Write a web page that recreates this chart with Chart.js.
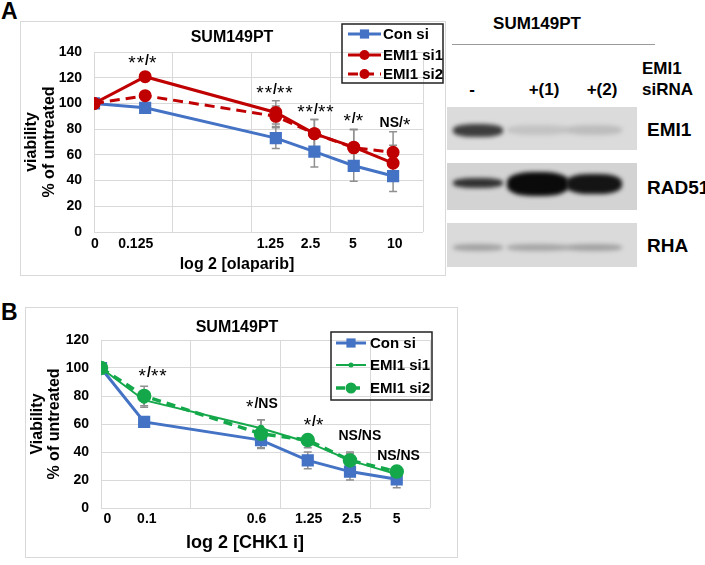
<!DOCTYPE html>
<html>
<head>
<meta charset="utf-8">
<script src="https://cdn.jsdelivr.net/npm/chart.js@4/dist/chart.umd.min.js"></script>
<style>
body{margin:0;width:705px;height:565px;background:#fff;position:relative;overflow:hidden;
  font-family:"Liberation Sans",Arial,sans-serif;font-weight:bold;color:#000}
.abs{position:absolute;line-height:1;white-space:nowrap}
.c{transform:translate(-50%,-50%)}
.l{transform:translateY(-50%)}
.frame{position:absolute;border:1px solid #d9d9d9;box-sizing:border-box}
canvas{position:absolute}
.blot{position:absolute;overflow:hidden}
.band{position:absolute;border-radius:40%;filter:blur(2px)}
</style>
</head>
<body>

<div class="abs l" style="left:1px;top:11px;font-size:23px">A</div>
<div class="abs l" style="left:1px;top:312px;font-size:23px">B</div>

<div class="frame" style="left:20px;top:21px;width:426px;height:255px"></div>
<canvas id="chartA" width="426" height="255" style="left:20px;top:21px"></canvas>

<div class="frame" style="left:25px;top:307px;width:433px;height:251px"></div>
<canvas id="chartB" width="433" height="251" style="left:25px;top:307px"></canvas>

<div id="blots"></div>

<script>
// ---- panel A : olaparib ----
const olapLabels = ['0', '0.125', '1.25', '2.5', '5', '10'];
const olapPos = [0, 0.65, 2.31, 2.8, 3.3, 3.8];          // point positions on the log axis
const olapTickPos = [0.01, 0.53, 2.24, 2.75, 3.29, 3.82]; // where Excel put the labels
const olapCon = [100, 96.6, 73, 62.5, 51.5, 43.5];
const olapSi1 = [100, 120.8, 93, 76.5, 66, 53.5];
const olapSi2 = [100, 106, 90, 76.5, 65.5, 62];
const olapConErr = [0, 2, 8, 12, 12, 12];
const olapSi1Err = [0, 3, 9, 11, 14, 14];
const olapSi2Err = [0, 2, 8, 11, 14, 16];
const olapStars = ['**/*', '**/**', '**/**', '*/*', 'NS/*'];
const olapStarX = [0.62, 2.3, 2.82, 3.3, 3.83];
const olapStarY = [133, 110, 95, 88, 85];

// ---- panel B : CHK1 inhibitor ----
const chkLabels = ['0', '0.1', '0.6', '1.25', '2.5', '5'];
const chkPos = [0, 0.48, 1.78, 2.3, 2.77, 3.29];
const chkTickPos = [0.07, 0.51, 1.73, 2.31, 2.79, 3.29];
const chkCon = [100, 61.5, 48.5, 34, 26, 20.5];
const chkSi1 = [100, 77, 57, 47, 34, 24];
const chkSi2 = [100, 80, 53, 48.5, 34, 26];
const chkConErr = [0, 3.5, 6, 6, 6, 6];
const chkSi1Err = [0, 5, 6, 4, 5, 3];
const chkSi2Err = [0, 7, 10, 3.5, 6, 3];
const chkStars = ['*/**', '*/NS', '*/*', 'NS/NS', 'NS/NS'];
const chkStarX = [0.58, 1.79, 2.37, 2.88, 3.31];
const chkStarY = [96, 74, 61, 51, 37];

// ---- western blot ----
const laneNames = ['-', '+(1)', '+(2)'];
const blotNames = ['EMI1', 'RAD51', 'RHA'];
const bandLevel = [[0.74, 0.05, 0.08], [0.8, 1, 0.95], [0.22, 0.2, 0.22]];

const FONT = '"Liberation Sans", Arial, sans-serif';
const BLUE = '#4472C4', RED = '#C00000', GREEN = '#14A84B';

function pts(xs, ys) {
    return xs.map((x, i) => ({ x: x, y: ys[i] }));
}

const errorBars = {
    id: 'errorBars',
    beforeDatasetsDraw(chart) {
        const ctx = chart.ctx;
        const x = chart.scales.x, y = chart.scales.y;
        ctx.save();
        ctx.strokeStyle = '#909090';
        ctx.lineWidth = 1.5;
        chart.data.datasets.forEach(ds => {
            (ds.errors || []).forEach((e, i) => {
                if (!e) return;
                const px = x.getPixelForValue(ds.data[i].x);
                const top = y.getPixelForValue(ds.data[i].y + e);
                const bot = y.getPixelForValue(ds.data[i].y - e);
                ctx.beginPath();
                ctx.moveTo(px, top); ctx.lineTo(px, bot);
                ctx.moveTo(px - 4, top); ctx.lineTo(px + 4, top);
                ctx.moveTo(px - 4, bot); ctx.lineTo(px + 4, bot);
                ctx.stroke();
            });
        });
        ctx.restore();
    }
};

// significance text: asterisks are drawn bigger than the letters, like the original
function drawStars(ctx, text, cx, cy) {
    const starFont = '19px ' + FONT, textFont = 'bold 14px ' + FONT;
    let w = 0;
    const parts = text.split('').map(ch => {
        ctx.font = ch === '*' ? starFont : textFont;
        const cw = ctx.measureText(ch).width + (ch === '*' ? 1 : 0);
        w += cw;
        return { ch: ch, cw: cw };
    });
    let px = cx - w / 2;
    ctx.textAlign = 'left';
    parts.forEach(p => {
        ctx.font = p.ch === '*' ? starFont : textFont;
        ctx.fillText(p.ch, px, cy + (p.ch === '*' ? 3 : 0));
        px += p.cw;
    });
    ctx.textAlign = 'center';
}

// titles, stars and the boxed legend
const extras = {
    id: 'extras',
    afterDraw(chart, args, o) {
        const ctx = chart.ctx;
        const x = chart.scales.x, y = chart.scales.y;
        ctx.save();
        ctx.fillStyle = '#000';
        ctx.textAlign = 'center';
        ctx.textBaseline = 'middle';

        ctx.font = 'bold 16px ' + FONT;
        ctx.fillText(o.title, o.titlePos[0], o.titlePos[1]);

        ctx.font = 'bold ' + o.xTitleSize + 'px ' + FONT;
        ctx.fillText(o.xTitle, o.xTitlePos[0], o.xTitlePos[1]);

        ctx.font = 'bold 16px ' + FONT;
        o.yTitle.forEach((t, i) => {
            ctx.save();
            ctx.translate(o.yTitleX[i], o.yTitleY);
            ctx.rotate(-Math.PI / 2);
            ctx.fillText(t, 0, 0);
            ctx.restore();
        });

        o.stars.forEach((t, i) => {
            drawStars(ctx, t, x.getPixelForValue(o.starX[i]), y.getPixelForValue(o.starY[i]));
        });

        // legend
        const L = o.legend;
        ctx.strokeStyle = '#222';
        ctx.lineWidth = 1.5;
        ctx.strokeRect(L.box[0], L.box[1], L.box[2], L.box[3]);
        ctx.textAlign = 'left';
        ctx.font = 'bold 15px ' + FONT;
        chart.data.datasets.forEach((ds, i) => {
            const ry = L.rows[i];
            ctx.save();
            ctx.strokeStyle = ds.borderColor;
            ctx.lineWidth = ds.borderWidth;
            ctx.setLineDash(ds.borderDash || []);
            ctx.beginPath();
            ctx.moveTo(L.line[0], ry);
            ctx.lineTo(L.line[1], ry);
            ctx.stroke();
            ctx.setLineDash([]);
            ctx.fillStyle = ds.borderColor;
            const mx = (L.line[0] + L.line[1]) / 2;
            const r = ds.pointRadius;
            ctx.beginPath();
            if (ds.pointStyle === 'rect') {
                const s = r * Math.SQRT1_2;
                ctx.rect(mx - s, ry - s, 2 * s, 2 * s);
            } else {
                ctx.arc(mx, ry, r, 0, Math.PI * 2);
            }
            ctx.fill();
            ctx.restore();
            ctx.fillText(ds.label, L.textX, ry + 1);
        });
        ctx.restore();
    }
};

function makeChart(id, cfg) {
    const tickFont = { family: FONT, size: 14, weight: 'bold' };
    return new Chart(document.getElementById(id), {
        type: 'line',
        data: { datasets: cfg.datasets },
        options: {
            responsive: false,
            animation: false,
            events: [],
            layout: { padding: { left: 0, top: cfg.pad[0], right: cfg.pad[1], bottom: 0 } },
            plugins: { legend: { display: false }, tooltip: { enabled: false }, extras: cfg.extras },
            scales: {
                y: {
                    min: 0, max: cfg.yMax,
                    ticks: { stepSize: 20, color: '#000', font: tickFont, padding: 12 },
                    grid: { color: '#d9d9d9', drawTicks: false },
                    border: { display: false },
                    afterFit: s => { s.width = cfg.yWidth; }
                },
                x: {
                    type: 'linear', position: 'bottom', min: 0, max: cfg.xMax,
                    ticks: { display: false, stepSize: 1 },
                    grid: { color: '#d9d9d9', drawTicks: false },
                    border: { display: false },
                    afterFit: s => { s.height = 0; }
                },
                xl: {
                    type: 'linear', position: 'bottom', min: 0, max: cfg.xMax,
                    grid: { display: false, drawTicks: false },
                    border: { display: false },
                    afterBuildTicks: s => { s.ticks = cfg.tickPos.map(v => ({ value: v })); },
                    ticks: {
                        callback: (v, i) => cfg.labels[i],
                        color: '#000', font: tickFont, padding: cfg.tickPad,
                        autoSkip: false, maxRotation: 0
                    },
                    afterFit: s => { s.height = cfg.bottom; }
                }
            }
        },
        plugins: [errorBars, extras]
    });
}

makeChart('chartA', {
    pad: [31, 23], yWidth: 74, bottom: 44, yMax: 140, xMax: 4.18, tickPad: 4,
    tickPos: olapTickPos, labels: olapLabels,
    datasets: [
        { label: 'Con si', data: pts(olapPos, olapCon), errors: olapConErr, order: 3,
          borderColor: BLUE, backgroundColor: BLUE, borderWidth: 3,
          pointStyle: 'rect', pointRadius: 6.5, tension: 0 },
        { label: 'EMI1 si1', data: pts(olapPos, olapSi1), errors: olapSi1Err, order: 1,
          borderColor: RED, backgroundColor: RED, borderWidth: 3,
          pointStyle: 'circle', pointRadius: 5, tension: 0 },
        { label: 'EMI1 si2', data: pts(olapPos, olapSi2), errors: olapSi2Err, order: 2,
          borderColor: RED, backgroundColor: RED, borderWidth: 3, borderDash: [10, 6],
          pointStyle: 'circle', pointRadius: 5, tension: 0 }
    ],
    extras: {
        title: 'SUM149PT', titlePos: [212, 17],
        xTitle: 'log 2 [olaparib]', xTitlePos: [217, 244], xTitleSize: 16,
        yTitle: ['viability', '% of untreated'], yTitleX: [12, 30], yTitleY: 121,
        stars: olapStars, starX: olapStarX, starY: olapStarY,
        legend: { box: [322, 3, 101, 59], rows: [13, 34, 53], line: [328, 361], textX: 363 }
    }
});

makeChart('chartB', {
    pad: [33, 28], yWidth: 76, bottom: 50, yMax: 120, xMax: 3.66, tickPad: 3,
    tickPos: chkTickPos, labels: chkLabels,
    datasets: [
        { label: 'Con si', data: pts(chkPos, chkCon), errors: chkConErr, order: 3,
          borderColor: BLUE, backgroundColor: BLUE, borderWidth: 3,
          pointStyle: 'rect', pointRadius: 6.5, tension: 0 },
        { label: 'EMI1 si1', data: pts(chkPos, chkSi1), errors: chkSi1Err, order: 1,
          borderColor: GREEN, backgroundColor: GREEN, borderWidth: 2,
          pointStyle: 'circle', pointRadius: 2.5, tension: 0 },
        { label: 'EMI1 si2', data: pts(chkPos, chkSi2), errors: chkSi2Err, order: 2,
          borderColor: GREEN, backgroundColor: GREEN, borderWidth: 3.5, borderDash: [9, 6],
          pointStyle: 'circle', pointRadius: 5.5, tension: 0 }
    ],
    extras: {
        title: 'SUM149PT', titlePos: [212, 21],
        xTitle: 'log 2 [CHK1 i]', xTitlePos: [220, 236], xTitleSize: 18,
        yTitle: ['Viability', '% of untreated'], yTitleX: [13, 30], yTitleY: 117,
        stars: chkStars, starX: chkStarX, starY: chkStarY,
        legend: { box: [306, 25, 101, 68], rows: [36, 58, 81], line: [311, 341], textX: 345 }
    }
});

// ---- blot panel (plain HTML) ----
(function () {
    const root = document.getElementById('blots');
    let html = '';
    html += '<div class="abs c" style="left:537px;top:23px;font-size:17px">SUM149PT</div>';
    html += '<div class="abs" style="left:452px;top:44px;width:203px;height:1px;background:#9a9a9a"></div>';
    html += '<div class="abs l" style="left:642px;top:68px;font-size:17px">EMI1</div>';
    html += '<div class="abs l" style="left:642px;top:89px;font-size:17px">siRNA</div>';
    const laneX = [472, 544, 602];
    laneNames.forEach((t, i) => {
        html += '<div class="abs c" style="left:' + laneX[i] + 'px;top:89px;font-size:17px">' + t + '</div>';
    });
    const blotTop = [107, 163, 223], blotH = [43, 47, 44], blotBg = ['#dbdbdb', '#d3d3d3', '#dadada'];
    const bandY = [[23, 23, 23], [20, 21, 21], [24, 24, 24]];
    const bandH = [[13, 10, 10], [10, 24, 20], [7, 7, 7]];
    const bandX = [[453, 50], [507, 62], [566, 56]];
    blotNames.forEach((name, b) => {
        html += '<div class="blot" style="left:447px;top:' + blotTop[b] + 'px;width:190px;height:' + blotH[b] +
            'px;background:' + blotBg[b] + '">';
        bandLevel[b].forEach((lv, k) => {
            const h = bandH[b][k];
            const c = Math.round(205 - 195 * lv);
            html += '<div class="band" style="left:' + (bandX[k][0] - 447) + 'px;width:' + bandX[k][1] +
                'px;top:' + (bandY[b][k] - h / 2) + 'px;height:' + h + 'px;background:rgb(' +
                c + ',' + c + ',' + c + ')"></div>';
        });
        html += '</div>';
        html += '<div class="abs l" style="left:647px;top:' + (blotTop[b] + blotH[b] / 2) + 'px;font-size:19px">' +
            name + '</div>';
    });
    root.innerHTML = html;
})();
</script>
</body>
</html>
